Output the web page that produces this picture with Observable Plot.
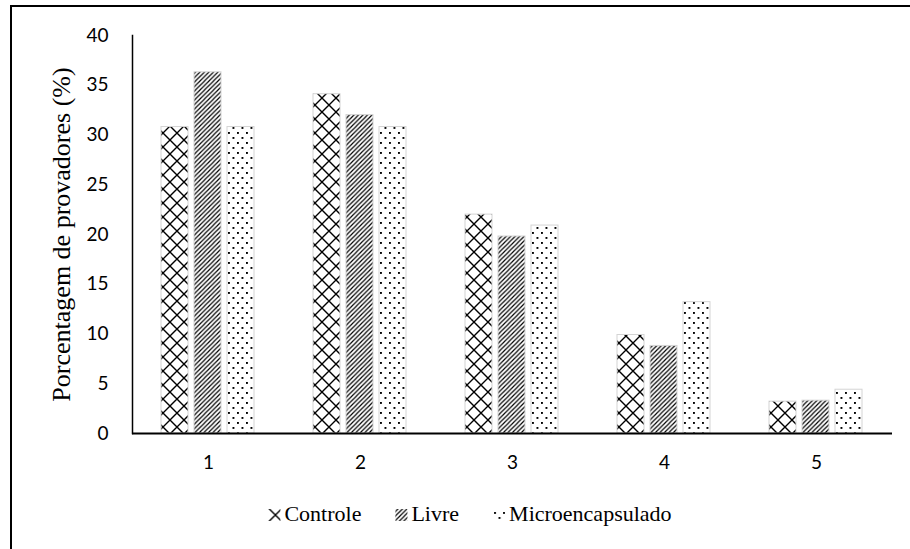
<!DOCTYPE html>
<html>
<head>
<meta charset="utf-8">
<script src="https://cdn.jsdelivr.net/npm/d3@7"></script>
<script src="https://cdn.jsdelivr.net/npm/@observablehq/plot@0.6"></script>
<style>
  html, body { margin: 0; padding: 0; background: #fff; overflow: hidden; }
  #frame { position: absolute; left: 10px; top: 5px; width: 940px; height: 600px; border: 2px solid #000; box-sizing: border-box; pointer-events: none; }
  #chart { position: absolute; left: 0; top: 0; }
  #chart g[aria-label="y-axis label"] text { font-family: "Liberation Serif", "Times New Roman", serif !important; font-size: 26px !important; }
  #legend { position: absolute; left: 0; top: 480px; }
  #legend text { font-family: "Liberation Serif", "Times New Roman", serif; font-size: 22px; fill: #000; }
</style>
</head>
<body>
<svg width="0" height="0" style="position:absolute">
  <defs>
    <pattern id="pat-controle" patternUnits="userSpaceOnUse" width="14" height="14">
      <path d="M-2,-2L16,16M16,-2L-2,16" stroke="#000" stroke-width="1.4" fill="none"/>
    </pattern>
    <pattern id="pat-livre" patternUnits="userSpaceOnUse" width="4.5" height="4.5">
      <path d="M-1,1L1,-1M0,4.5L4.5,0M3.5,5.5L5.5,3.5" stroke="#000" stroke-width="1.2" fill="none"/>
    </pattern>
    <pattern id="pat-micro" patternUnits="userSpaceOnUse" width="9" height="10">
      <rect x="1" y="2" width="1.9" height="1.9" fill="#000"/>
      <rect x="5.5" y="7" width="1.9" height="1.9" fill="#000"/>
    </pattern>
  </defs>
</svg>
<div id="frame"></div>
<div id="chart"></div>
<svg id="legend" width="910" height="69"></svg>
<script>
const categories = ["1", "2", "3", "4", "5"];
const series = ["Controle", "Livre", "Microencapsulado"];
const controle = [30.8, 34.1, 22.0, 9.9, 3.2];
const livre = [36.3, 32.0, 19.8, 8.8, 3.3];
const microencapsulado = [30.8, 30.8, 20.9, 13.2, 4.4];
const yTicks = [0, 5, 10, 15, 20, 25, 30, 35, 40];
const yLabel = "Porcentagem de provadores (%)";

const patterns = ["url(#pat-controle)", "url(#pat-livre)", "url(#pat-micro)"];
const valuesBySeries = [controle, livre, microencapsulado];
const data = [];
categories.forEach((c, i) => {
  series.forEach((s, j) => data.push({cat: c, series: s, value: valuesBySeries[j][i]}));
});

const chart = Plot.plot({
  width: 910,
  height: 480,
  marginLeft: 130,
  marginRight: 17,
  marginTop: 35,
  marginBottom: 47,
  style: {fontFamily: "Lato, sans-serif", fontSize: "19px", color: "#000", background: "transparent"},
  fx: {domain: categories, padding: 0, label: null, axis: "bottom", tickSize: 0, tickPadding: 22},
  x: {domain: series, axis: null, paddingInner: 0.18, paddingOuter: 0.83},
  y: {domain: [0, 40], ticks: yTicks, tickSize: 0, tickPadding: 24, label: yLabel, labelAnchor: "center", labelOffset: 81, labelArrow: "none"},
  color: {domain: series, range: patterns},
  marks: [
    Plot.barY(data, {fx: "cat", x: "series", y: "value", fill: "series", stroke: "#d4d4d4", strokeWidth: 1}),
    Plot.ruleY([0], {stroke: "#000", strokeWidth: 2}),
    Plot.frame({anchor: "left", facetAnchor: "left", stroke: "#000", strokeWidth: 1.5})
  ]
});
document.getElementById("chart").appendChild(chart);

// Legend (real SVG text), laid out from measured text widths, centred under the plot
const legend = d3.select("#legend");
const baseline = 41;   // relative to legend svg top (480)
const swatch = 12, swGap = 4, itemGap = 34;
const items = series.map((s, j) => {
  const g = legend.append("g");
  g.append("rect").attr("width", swatch).attr("height", swatch).attr("y", baseline - swatch).attr("fill", patterns[j]);
  const t = g.append("text").attr("x", swatch + swGap).attr("y", baseline).text(s);
  return {g, w: swatch + swGap + t.node().getComputedTextLength()};
});
const total = d3.sum(items, d => d.w) + itemGap * (items.length - 1);
let x0 = 470 - total / 2;
items.forEach(d => { d.g.attr("transform", `translate(${x0},0)`); x0 += d.w + itemGap; });
</script>
</body>
</html>
